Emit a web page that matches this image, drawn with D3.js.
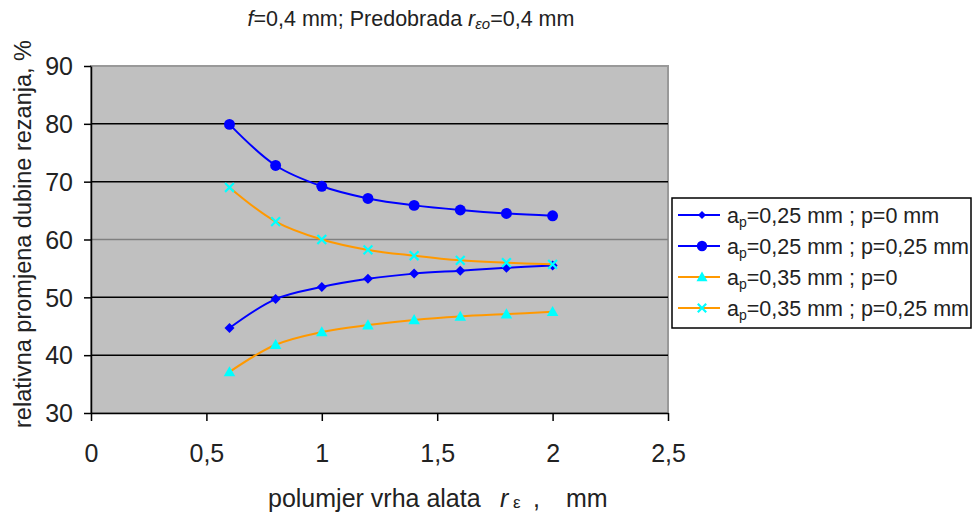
<!DOCTYPE html>
<html>
<head>
<meta charset="utf-8">
<script src="https://cdn.jsdelivr.net/npm/d3@7"></script>
<style>
  body { margin: 0; background: #fff; }
  svg { font-family: "Liberation Sans", Arial, sans-serif; }
</style>
</head>
<body>
<svg id="chart" width="973" height="517"></svg>
<script>
const radii = [0.6, 0.8, 1.0, 1.2, 1.4, 1.6, 1.8, 2.0];
const ap25p0 = [44.7, 49.7, 51.8, 53.2, 54.1, 54.6, 55.1, 55.5];
const ap25p25 = [79.9, 72.8, 69.2, 67.1, 65.9, 65.1, 64.5, 64.1];
const ap35p0 = [37.1, 41.8, 44.0, 45.2, 46.1, 46.7, 47.1, 47.5];
const ap35p25 = [69.0, 63.1, 60.0, 58.2, 57.2, 56.4, 56.0, 55.7];
const xTicks = [0, 0.5, 1, 1.5, 2, 2.5];
const yTicks = [30, 40, 50, 60, 70, 80, 90];

const series = [
  { ap: "0,25", p: "0 mm", values: ap25p0, line: "#0000ff", fill: "#0000ff", shape: "diamond" },
  { ap: "0,25", p: "0,25 mm", values: ap25p25, line: "#0000ff", fill: "#0000ff", shape: "circle" },
  { ap: "0,35", p: "0", values: ap35p0, line: "#ff9900", fill: "#00ffff", shape: "triangle" },
  { ap: "0,35", p: "0,25 mm", values: ap35p25, line: "#ff9900", fill: "#00ffff", shape: "cross" }
];

const svg = d3.select("#chart");
const margin = { top: 66, right: 305, bottom: 104, left: 91 };
const width = +svg.attr("width");
const height = +svg.attr("height");

const x = d3.scaleLinear().domain([0, 2.5]).range([margin.left, width - margin.right]);
const y = d3.scaleLinear().domain([30, 90]).range([height - margin.bottom, margin.top]);
const fmt = d => String(d).replace(".", ",");

// plot area
svg.append("rect")
  .attr("x", x(0)).attr("y", y(90))
  .attr("width", x(2.5) - x(0)).attr("height", y(30) - y(90))
  .attr("fill", "#c0c0c0")
  .attr("stroke", "#999").attr("stroke-width", 2);

// gridlines
svg.append("g").selectAll("line")
  .data(yTicks.filter(d => d > 30 && d < 90))
  .join("line")
  .attr("x1", x(0)).attr("x2", x(2.5))
  .attr("y1", d => y(d)).attr("y2", d => y(d))
  .attr("stroke", d => d === 60 ? "#808080" : "#000")
  .attr("stroke-width", 1.5);

// axes
const xAxis = svg.append("g")
  .attr("transform", `translate(0,${y(30)})`)
  .call(d3.axisBottom(x).tickValues(xTicks).tickFormat(fmt).tickSize(8).tickSizeOuter(0));
xAxis.selectAll("text")
  .attr("font-size", 25).attr("fill", "#222")
  .attr("y", 0).attr("dy", 0)
  .attr("transform", "translate(0,49)");

const yAxis = svg.append("g")
  .attr("transform", `translate(${x(0)},0)`)
  .call(d3.axisLeft(y).tickValues(yTicks).tickSize(7).tickSizeOuter(0));
yAxis.selectAll("text")
  .attr("font-size", 25).attr("fill", "#222")
  .attr("x", -18).attr("dy", "0.35em");
svg.selectAll(".domain").attr("stroke", "#000").attr("stroke-width", 1.5);
svg.selectAll(".tick line").attr("stroke", "#000").attr("stroke-width", 1.5);

// lines and markers
const line = d3.line()
  .x((d, i) => x(radii[i]))
  .y(d => y(d))
  .curve(d3.curveCatmullRom.alpha(0.5));

function marker(g, shape, fill, s) {
  if (shape === "circle") {
    g.append("circle").attr("r", s * 0.52).attr("fill", fill);
  } else if (shape === "diamond") {
    const h = s * 0.5;
    g.append("path").attr("d", `M0,${-h}L${h},0L0,${h}L${-h},0Z`).attr("fill", fill);
  } else if (shape === "triangle") {
    const w = s * 0.55, t = s * 0.55;
    g.append("path").attr("d", `M0,${-t}L${w},${t * 0.75}L${-w},${t * 0.75}Z`).attr("fill", fill);
  } else {
    const h = s * 0.42;
    g.append("path").attr("d", `M${-h},${-h}L${h},${h}M${-h},${h}L${h},${-h}`)
      .attr("stroke", fill).attr("stroke-width", 2.2).attr("fill", "none");
  }
}

series.forEach(s => {
  svg.append("path")
    .datum(s.values)
    .attr("fill", "none")
    .attr("stroke", s.line)
    .attr("stroke-width", 2)
    .attr("d", line);
  svg.append("g").selectAll("g")
    .data(s.values)
    .join("g")
    .attr("transform", (d, i) => `translate(${x(radii[i])},${y(d)})`)
    .each(function() { marker(d3.select(this), s.shape, s.fill, s.shape === "diamond" ? 10 : 10.5); });
});

// title
const title = svg.append("text")
  .attr("x", 411).attr("y", 26)
  .attr("text-anchor", "middle")
  .attr("font-size", 21.5).attr("fill", "#222");
title.append("tspan").attr("font-style", "italic").text("f");
title.append("tspan").text("=0,4 mm; Predobrada ");
title.append("tspan").attr("font-style", "italic").text("r");
title.append("tspan").attr("font-style", "italic").attr("font-size", 15).attr("dy", 3).text("εo");
title.append("tspan").attr("dy", -3).text("=0,4 mm");

// axis titles
svg.append("text")
  .attr("transform", `translate(31,234) rotate(-90)`)
  .attr("text-anchor", "middle")
  .attr("font-size", 23.5).attr("fill", "#222")
  .text("relativna promjena dubine rezanja, %");

const xt = svg.append("text")
  .attr("y", 507)
  .attr("font-size", 25).attr("fill", "#222");
xt.append("tspan").attr("x", 268).text("polumjer vrha alata");
xt.append("tspan").attr("x", 500).attr("font-style", "italic").text("r");
xt.append("tspan").attr("x", 513).attr("font-size", 17).attr("dy", 1).text("ε");
xt.append("tspan").attr("x", 533).attr("dy", -1).text(",");
xt.append("tspan").attr("x", 566).text("mm");

// legend
const legend = svg.append("g").attr("transform", "translate(672,198)");
legend.append("rect")
  .attr("width", 299).attr("height", 130)
  .attr("fill", "#fff").attr("stroke", "#000").attr("stroke-width", 1.5);
series.forEach((s, i) => {
  const g = legend.append("g").attr("transform", `translate(0,${17 + i * 31})`);
  g.append("line").attr("x1", 6).attr("x2", 48).attr("stroke", s.line).attr("stroke-width", 2);
  const m = g.append("g").attr("transform", "translate(30,0)");
  marker(m, s.shape, s.fill, s.shape === "diamond" ? 8 : 10);
  const t = g.append("text").attr("x", 55).attr("y", 8).attr("font-size", 21.5).attr("fill", "#222");
  t.append("tspan").text("a");
  t.append("tspan").attr("font-size", 14).attr("dy", 4).text("p");
  t.append("tspan").attr("dy", -4).text(`=${s.ap} mm ; p=${s.p}`);
});
</script>
</body>
</html>
